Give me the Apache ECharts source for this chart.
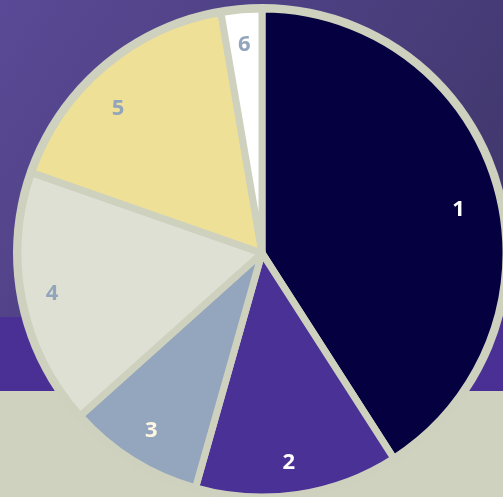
<!DOCTYPE html>
<html>
<head>
<meta charset="utf-8">
<script src="https://cdn.jsdelivr.net/npm/echarts@6/dist/echarts.min.js"></script>
<style>
  html, body { margin: 0; padding: 0; }
  #chart { width: 503px; height: 497px; }
</style>
</head>
<body>
<div id="chart"></div>
<script>
const categories = ['1', '2', '3', '4', '5', '6'];
const values = [41, 13.5, 9, 17, 17, 2.7];
const sliceColors = ['#05003f', '#4a3196', '#94a6bd', '#dee0d3', '#eee096', '#ffffff'];
const labelColors = ['#ffffff', '#ffffff', '#fdf6e2', '#93a5bd', '#93a5bd', '#93a5bd'];
// small nudges so the labels sit where the original put them
const labelNudges = [[-4, 16], [-4, 3], [0, 0], [-5, 0], [-9, 15], [0, 0]];

const ringColor = '#cfd1bf';
const center = [262, 253];

const chart = echarts.init(document.getElementById('chart'));

const pieData = categories.map((name, i) => ({
  name,
  value: values[i],
  itemStyle: { color: sliceColors[i] }
}));

const labelData = categories.map((name, i) => ({
  name,
  value: values[i],
  label: { color: labelColors[i], offset: labelNudges[i] }
}));

const option = {
  animation: false,
  graphic: [
    {
      type: 'rect',
      z: -10,
      shape: { x: 0, y: 0, width: 503, height: 318 },
      style: {
        fill: new echarts.graphic.LinearGradient(0, 0, 1, 1, [
          { offset: 0, color: '#5a4996' },
          { offset: 0.5, color: '#4c3f80' },
          { offset: 1, color: '#3e3667' }
        ])
      }
    },
    {
      type: 'rect',
      z: -10,
      shape: { x: 0, y: 317, width: 503, height: 75 },
      style: { fill: '#4a3094' }
    },
    {
      type: 'rect',
      z: -10,
      shape: { x: 0, y: 391, width: 503, height: 106 },
      style: { fill: '#d0d2c0' }
    }
  ],
  series: [
    {
      type: 'pie',
      silent: true,
      center: center,
      radius: [0, 249],
      z: 1,
      label: { show: false },
      labelLine: { show: false },
      data: [{ value: 1, itemStyle: { color: ringColor } }]
    },
    {
      type: 'pie',
      silent: true,
      center: center,
      radius: [0, 244],
      startAngle: 90,
      clockwise: true,
      z: 2,
      itemStyle: { borderColor: ringColor, borderWidth: 7 },
      label: { show: false },
      labelLine: { show: false },
      data: pieData
    },
    {
      type: 'pie',
      silent: true,
      center: center,
      radius: [168, 244],
      startAngle: 90,
      clockwise: true,
      z: 3,
      itemStyle: { color: 'transparent' },
      label: {
        show: true,
        position: 'inside',
        formatter: '{b}',
        fontFamily: 'Open Sans',
        fontWeight: 'bold',
        fontSize: 22
      },
      labelLine: { show: false },
      data: labelData
    }
  ]
};

chart.setOption(option);
</script>
</body>
</html>
